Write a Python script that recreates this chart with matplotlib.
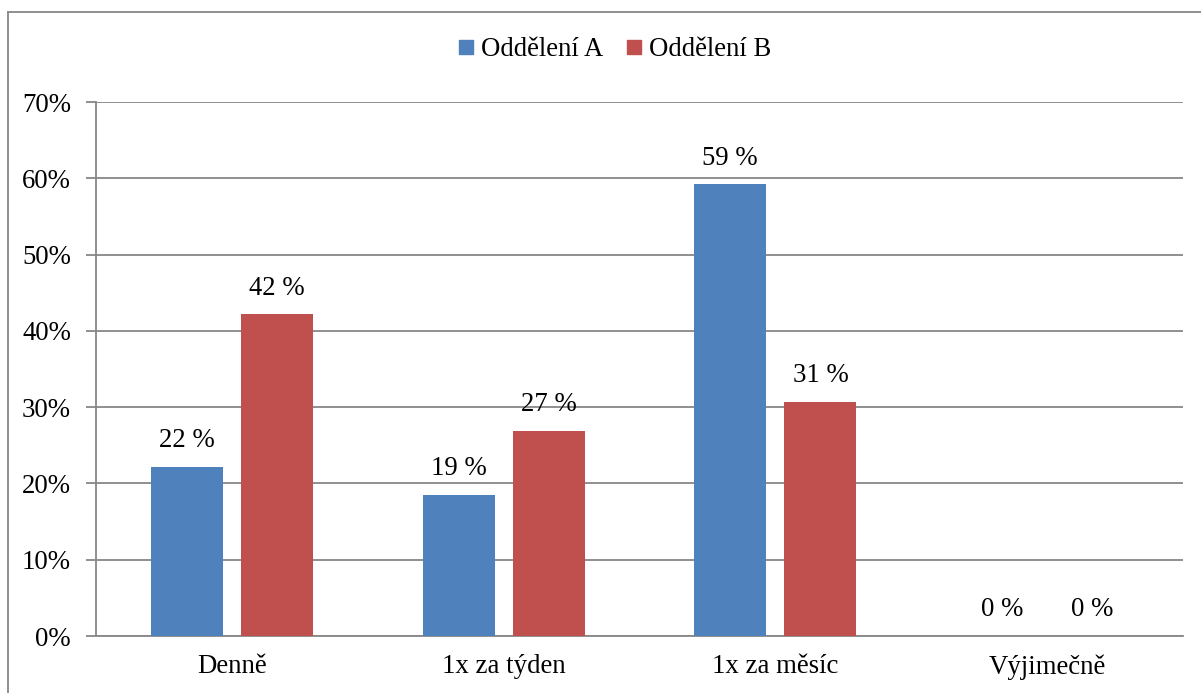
import matplotlib
matplotlib.use("Agg")
import matplotlib.pyplot as plt
from matplotlib.lines import Line2D
import numpy as np

categories = ["Denně", "1x za týden", "1x za měsíc", "Výjimečně"]
series_names = ["Oddělení A", "Oddělení B"]
values_a = [22.2, 18.5, 59.2, 0.0]
values_b = [42.2, 26.9, 30.7, 0.0]
labels_a = ["22 %", "19 %", "59 %", "0 %"]
labels_b = ["42 %", "27 %", "31 %", "0 %"]
yticks = [0, 10, 20, 30, 40, 50, 60, 70]
ytick_labels = ["0%", "10%", "20%", "30%", "40%", "50%", "60%", "70%"]

colors = ["#4F81BD", "#C0504D"]
gray = "#878787"
plt.rcParams["font.family"] = ["Liberation Serif", "DejaVu Serif"]
fs = 19.3

W, H = 1201, 693
fig = plt.figure(figsize=(W / 100, H / 100), dpi=100)
ax = fig.add_axes([96 / W, 1 - 636 / H, (1183 - 96) / W, (636 - 102) / H])

x = np.arange(len(categories))
bw = 0.265
off = 0.166
bars_a = ax.bar(x - off, values_a, bw, color=colors[0], label=series_names[0], zorder=3)
bars_b = ax.bar(x + off, values_b, bw, color=colors[1], label=series_names[1], zorder=3)

for bars, labs in ((bars_a, labels_a), (bars_b, labels_b)):
    for b, t in zip(bars, labs):
        ax.annotate(t, (b.get_x() + b.get_width() / 2, b.get_height()),
                    xytext=(0, 26), textcoords="offset pixels",
                    ha="center", va="center", fontsize=fs, color="black")

ax.set_xlim(-0.5, len(categories) - 0.5)
ax.set_ylim(0, 70)
ax.set_yticks(yticks)
ax.set_yticklabels(ytick_labels, fontsize=fs)
ax.set_xticks(x)
ax.set_xticklabels(categories, fontsize=fs)
ax.tick_params(axis="x", length=0, pad=13)
ax.tick_params(axis="y", length=7, width=1.3, color=gray, pad=11)
ax.yaxis.grid(True, color=gray, linewidth=1.3, zorder=0)
ax.set_axisbelow(True)
for s in ("top", "right"):
    ax.spines[s].set_visible(False)
for s in ("left", "bottom"):
    ax.spines[s].set_color(gray)
    ax.spines[s].set_linewidth(1.3)

handles = [Line2D([], [], marker="s", linestyle="none", markersize=9.5,
                  markerfacecolor=c, markeredgecolor=c) for c in colors]
fig.legend(handles, series_names, loc="center", bbox_to_anchor=(613 / W, 1 - 50 / H),
           ncol=2, frameon=False, fontsize=fs, handletextpad=0.15,
           columnspacing=0.75, handlelength=0.8)

# chart outer border (left and top visible)
fig.add_artist(Line2D([7.5 / W, 7.5 / W], [0, 1 - 11.5 / H], transform=fig.transFigure,
                      color=gray, linewidth=1.3))
fig.add_artist(Line2D([7.5 / W, 1], [1 - 11.5 / H, 1 - 11.5 / H], transform=fig.transFigure,
                      color=gray, linewidth=1.3))

fig.savefig("out.png", dpi=100)
